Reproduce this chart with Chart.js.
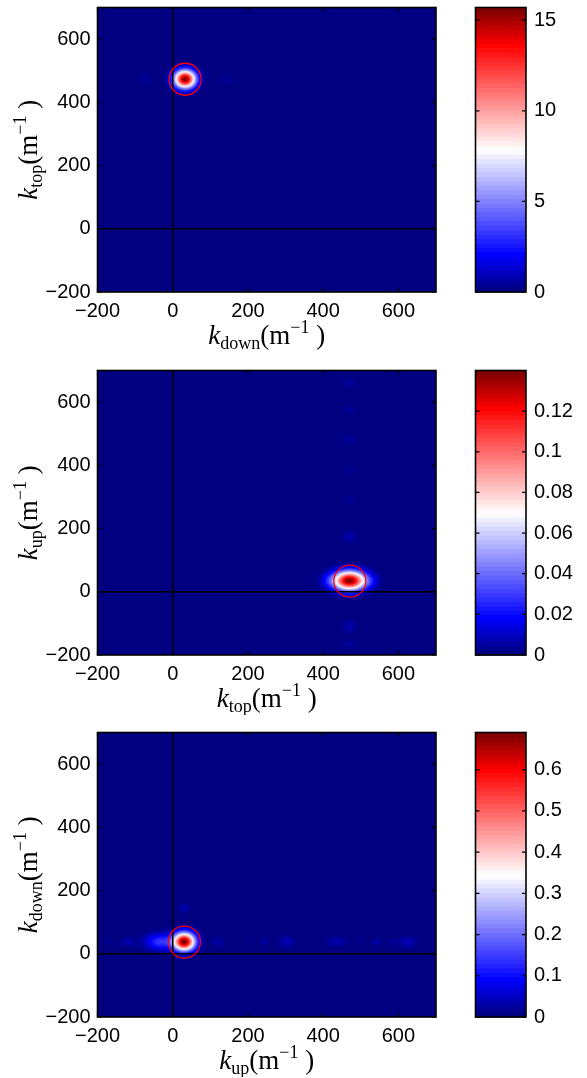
<!DOCTYPE html>
<html>
<head>
<meta charset="utf-8">
<script src="https://cdn.jsdelivr.net/npm/chart.js@4.4.0/dist/chart.umd.min.js"></script>
<style>
  body { margin: 0; background: #fff; width: 587px; height: 1078px; position: relative; overflow: hidden; }
  canvas { position: absolute; }
</style>
</head>
<body>
<canvas id="map1" width="450" height="352" style="left:0;top:0"></canvas>
<canvas id="bar1" width="137" height="352" style="left:450px;top:0"></canvas>
<canvas id="map2" width="450" height="352" style="left:0;top:363px"></canvas>
<canvas id="bar2" width="137" height="352" style="left:450px;top:363px"></canvas>
<canvas id="map3" width="450" height="352" style="left:0;top:725px"></canvas>
<canvas id="bar3" width="137" height="352" style="left:450px;top:725px"></canvas>
<script>
// ===== DATA =====
// wavenumber axes shared by all maps (m^-1)
const kMin = -200, kMax = 700;
const kTicks = [-200, 0, 200, 400, 600];

// map 1: k_down (x) vs k_top (y)
const downTopX   = [33, -74, 145];
const downTopY   = [473, 473, 473];
const downTopAmp = [15.7, 0.5, 0.45];
const downTopSX  = [20, 16, 16];
const downTopSY  = [20, 16, 16];
const downTopMax = 15.7;
const downTopBar = [0, 5, 10, 15];

// map 2: k_top (x) vs k_up (y)
const topUpX   = [471, 413, 530, 471, 471, 471, 471, 471, 471, 471, 471];
const topUpY   = [34, 34, 34, 660, 575, 480, 385, 290, 173, -111, -168];
const topUpAmp = [0.14, 0.008, 0.007, 0.005, 0.005, 0.005, 0.004, 0.004, 0.007, 0.007, 0.005];
const topUpSX  = [30, 14, 14, 14, 14, 14, 14, 14, 14, 14, 14];
const topUpSY  = [21, 16, 16, 12, 12, 12, 12, 12, 14, 16, 12];
const topUpMax = 0.14;
const topUpBar = [0, 0.02, 0.04, 0.06, 0.08, 0.1, 0.12];

// map 3: k_up (x) vs k_down (y)
const upDownX   = [31, -34, -172, -119, 121, 205, 245, 304, 436, 502, 543, 582, 626, 31];
const upDownY   = [37, 37, 37, 37, 37, 37, 37, 37, 37, 37, 37, 37, 37, 142];
const upDownAmp = [0.69, 0.14, 0.02, 0.035, 0.03, 0.02, 0.03, 0.04, 0.035, 0.02, 0.03, 0.02, 0.04, 0.035];
const upDownSX  = [20, 27, 8, 14, 14, 8, 10, 16, 22, 8, 12, 8, 18, 12];
const upDownSY  = [20, 18, 8, 12, 12, 8, 10, 14, 12, 8, 10, 8, 14, 12];
const upDownMax = 0.69;
const upDownBar = [0, 0.1, 0.2, 0.3, 0.4, 0.5, 0.6];

// ===== COLOUR MAP (64 levels, blue - white - red) =====
const cmapStops = [[0, 0, 0, 128], [0.125, 0, 0, 255], [0.5, 255, 255, 255], [0.875, 255, 0, 0], [1, 128, 0, 0]];
const cmapLevels = [];
for (let k = 0; k < 64; k++) {
  const s = k / 63;
  let i = 0;
  while (i < cmapStops.length - 2 && s > cmapStops[i + 1][0]) i++;
  const a = cmapStops[i], b = cmapStops[i + 1];
  const f = (s - a[0]) / (b[0] - a[0]);
  cmapLevels.push([0, 1, 2].map(c => Math.round(a[c + 1] + (b[c + 1] - a[c + 1]) * f)));
}
const levelOf = t => Math.max(0, Math.min(63, Math.floor(t * 64)));

const tickFont = { family: 'Liberation Sans, Arial, sans-serif', size: 20 };
const minus = v => v < 0 ? '\u2212' + (-v) : String(v);

// fixed axis sizes, no extra room for overhanging labels
function fixSize(s, size) {
  if (s.isHorizontal()) s.height = size; else s.width = size;
  s.paddingTop = s.paddingBottom = s.paddingLeft = s.paddingRight = 0;
}

// ===== PLUGINS =====
function heatPlugin(px, py, amp, sx, sy, vmax) {
  return {
    id: 'heat',
    beforeDraw(chart) {
      const { ctx, chartArea: a, scales: { x, y } } = chart;
      const w = Math.round(a.right - a.left), h = Math.round(a.bottom - a.top);
      const off = document.createElement('canvas');
      off.width = w; off.height = h;
      const octx = off.getContext('2d');
      const img = octx.createImageData(w, h);
      const xs = [], ys = [];
      for (let i = 0; i < w; i++) xs.push(x.getValueForPixel(a.left + i + 0.5));
      for (let j = 0; j < h; j++) ys.push(y.getValueForPixel(a.top + j + 0.5));
      for (let j = 0; j < h; j++) {
        for (let i = 0; i < w; i++) {
          let v = 0;
          for (let p = 0; p < px.length; p++) {
            const dx = (xs[i] - px[p]) / sx[p], dy = (ys[j] - py[p]) / sy[p];
            v += amp[p] * Math.exp(-0.5 * (dx * dx + dy * dy));
          }
          const col = cmapLevels[levelOf(v / vmax)];
          const o = (j * w + i) * 4;
          img.data[o] = col[0]; img.data[o + 1] = col[1]; img.data[o + 2] = col[2]; img.data[o + 3] = 255;
        }
      }
      octx.putImageData(img, 0, 0);
      ctx.drawImage(off, a.left, a.top, a.right - a.left, a.bottom - a.top);
    }
  };
}

function bandPlugin(vmax) {
  return {
    id: 'bands',
    beforeDraw(chart) {
      const { ctx, chartArea: a, scales: { y } } = chart;
      for (let k = 0; k < 64; k++) {
        const y0 = y.getPixelForValue(k / 64 * vmax), y1 = y.getPixelForValue((k + 1) / 64 * vmax);
        const c = cmapLevels[k];
        ctx.fillStyle = `rgb(${c[0]},${c[1]},${c[2]})`;
        ctx.fillRect(a.left, y1 - 0.5, a.right - a.left, y0 - y1 + 1);
      }
    }
  };
}

// box around the axes with short inward ticks
function framePlugin(xTicks, yTicks) {
  return {
    id: 'frame',
    afterDraw(chart) {
      const { ctx, chartArea: a, scales } = chart;
      ctx.save();
      ctx.strokeStyle = '#000';
      ctx.lineWidth = 1.2;
      ctx.beginPath();
      xTicks.forEach(v => {
        const p = scales.x.getPixelForValue(v);
        ctx.moveTo(p, a.bottom); ctx.lineTo(p, a.bottom - 4);
        ctx.moveTo(p, a.top); ctx.lineTo(p, a.top + 4);
      });
      yTicks.forEach(v => {
        const p = scales.y.getPixelForValue(v);
        ctx.moveTo(a.left, p); ctx.lineTo(a.left + 4, p);
        ctx.moveTo(a.right, p); ctx.lineTo(a.right - 4, p);
      });
      ctx.stroke();
      ctx.lineWidth = 1.6;
      ctx.strokeRect(a.left, a.top, a.right - a.left, a.bottom - a.top);
      ctx.restore();
    }
  };
}

// axis title k_sub (m^-1 )
function mathLabel(ctx, sub, x, y, angle) {
  const big = '27px "Liberation Serif", serif', small = '18px "Liberation Serif", serif';
  const parts = [
    { s: 'k', f: 'italic ' + big, dy: 0 },
    { s: sub, f: small, dy: 5 },
    { s: '(m', f: big, dy: 0 },
    { s: '\u22121', f: small, dy: -11 },
    { s: ' )', f: big, dy: 0 }
  ];
  ctx.save();
  ctx.translate(x, y);
  ctx.rotate(angle);
  let w = 0;
  parts.forEach(p => { ctx.font = p.f; p.w = ctx.measureText(p.s).width; w += p.w; });
  let cx = -w / 2;
  ctx.fillStyle = '#000';
  ctx.textBaseline = 'alphabetic';
  parts.forEach(p => { ctx.font = p.f; ctx.fillText(p.s, cx, p.dy); cx += p.w; });
  ctx.restore();
}

function titlePlugin(xSub, ySub) {
  return {
    id: 'titles',
    afterDraw(chart) {
      const { ctx, chartArea: a } = chart;
      mathLabel(ctx, xSub, (a.left + a.right) / 2, a.bottom + 52, 0);
      mathLabel(ctx, ySub, 37, (a.top + a.bottom) / 2, -Math.PI / 2);
    }
  };
}

// ===== CHARTS =====
function kAxis(vertical) {
  return {
    type: 'linear', min: kMin, max: kMax,
    afterBuildTicks: s => { s.ticks = kTicks.map(v => ({ value: v })); },
    afterFit: s => fixSize(s, vertical ? 97.5 : 60),
    grid: {
      drawTicks: false, lineWidth: 1.5,
      color: c => (c.tick && c.tick.value === 0) ? '#000' : 'rgba(0,0,0,0)'
    },
    border: { display: false },
    ticks: { color: '#000', padding: 7, font: tickFont, callback: minus }
  };
}

function heatChart(id, xSub, ySub, px, py, amp, sx, sy, vmax) {
  return new Chart(document.getElementById(id), {
    type: 'scatter',
    data: {
      datasets: [{
        data: [{ x: px[0], y: py[0] }],
        pointRadius: 16,
        pointBorderWidth: 1.3,
        pointBorderColor: '#ff0000',
        pointBackgroundColor: 'rgba(0,0,0,0)'
      }]
    },
    options: {
      responsive: false, animation: false, events: [], devicePixelRatio: 1,
      layout: { autoPadding: false, padding: { top: 7.5, right: 14, left: 0, bottom: 0 } },
      scales: { x: kAxis(false), y: kAxis(true) },
      plugins: { legend: { display: false }, tooltip: { enabled: false } }
    },
    plugins: [heatPlugin(px, py, amp, sx, sy, vmax), framePlugin(kTicks, kTicks), titlePlugin(xSub, ySub)]
  });
}

function barChart(id, vmax, ticks) {
  return new Chart(document.getElementById(id), {
    type: 'scatter',
    data: { datasets: [] },
    options: {
      responsive: false, animation: false, events: [], devicePixelRatio: 1,
      layout: { autoPadding: false, padding: { top: 7.5, bottom: 60, left: 25.5, right: 0 } },
      scales: {
        x: { display: false, min: 0, max: 1 },
        y: {
          position: 'right', min: 0, max: vmax,
          afterBuildTicks: s => { s.ticks = ticks.map(v => ({ value: v })); },
          afterFit: s => fixSize(s, 61),
          grid: { display: false, drawTicks: false },
          border: { display: false },
          ticks: { color: '#000', padding: 8, font: tickFont, callback: v => String(+v.toFixed(3)) }
        }
      },
      plugins: { legend: { display: false }, tooltip: { enabled: false } }
    },
    plugins: [bandPlugin(vmax), framePlugin([], ticks)]
  });
}

heatChart('map1', 'down', 'top', downTopX, downTopY, downTopAmp, downTopSX, downTopSY, downTopMax);
barChart('bar1', downTopMax, downTopBar);
heatChart('map2', 'top', 'up', topUpX, topUpY, topUpAmp, topUpSX, topUpSY, topUpMax);
barChart('bar2', topUpMax, topUpBar);
heatChart('map3', 'up', 'down', upDownX, upDownY, upDownAmp, upDownSX, upDownSY, upDownMax);
barChart('bar3', upDownMax, upDownBar);
</script>
</body>
</html>
